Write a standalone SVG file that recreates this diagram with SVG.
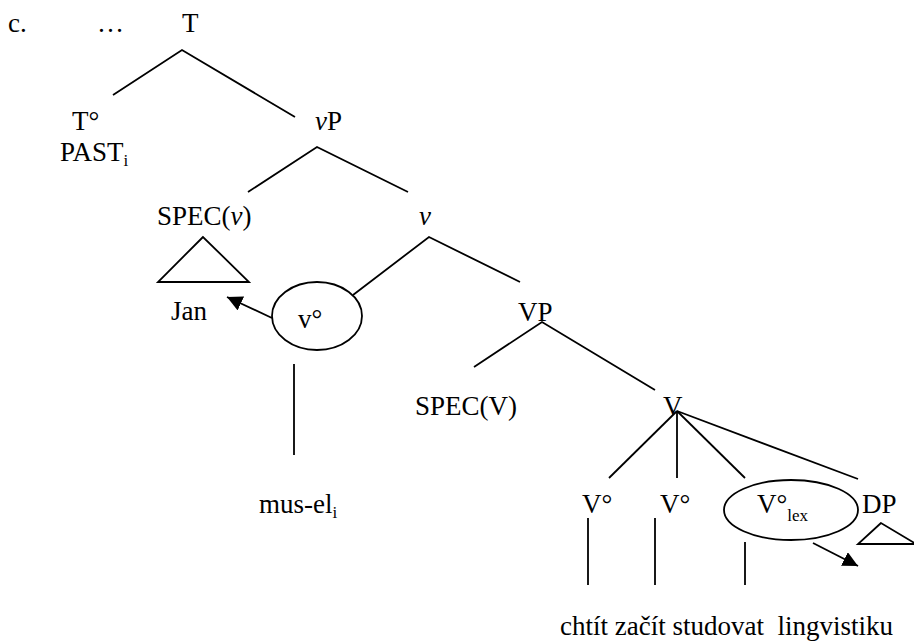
<svg xmlns="http://www.w3.org/2000/svg" width="914" height="643" viewBox="0 0 914 643">
<style>
text{font-family:"Liberation Serif","Times New Roman",serif;font-size:27px;fill:#000}
.sub{font-size:17px}
.it{font-style:italic}
line,polyline,polygon.tri,ellipse{stroke:#000;stroke-width:1.8;fill:none}
</style>
<defs>
<marker id="ah" viewBox="0 0 10 10" refX="10" refY="5" markerWidth="8.5" markerHeight="8.5" orient="auto" markerUnits="strokeWidth">
<path d="M0,0 L10,5 L0,10 z" fill="#000"/>
</marker>
</defs>
<rect width="914" height="643" fill="#fff"/>
<g id="label-c"><text x="8" y="32">c.</text></g>
<g id="node-dots"><text x="97" y="32">…</text></g>
<g id="node-T"><text x="182" y="32">T</text></g>
<g id="node-T0"><text x="72" y="130">T°</text><text x="60" y="161">PAST<tspan class="sub" dy="5">i</tspan></text></g>
<g id="node-vP"><text x="315" y="130"><tspan class="it">v</tspan>P</text></g>
<g id="node-SPECv"><text x="157" y="225">SPEC(<tspan class="it">v</tspan>)</text>
<polygon class="tri" points="203,237 158,282 249,282"/>
<text x="171" y="320">Jan</text></g>
<g id="node-v"><text class="it" x="419" y="225">v</text></g>
<g id="node-v0"><ellipse cx="317" cy="316" rx="45" ry="34"/><text x="298" y="328">v°</text></g>
<g id="node-musel"><text x="259" y="513">mus-el<tspan class="sub" dy="5">i</tspan></text></g>
<g id="node-VP"><text x="518" y="321">VP</text></g>
<g id="node-SPECV"><text x="415" y="415">SPEC(V)</text></g>
<g id="node-Vbar"><text x="663" y="415">V</text></g>
<g id="node-V01"><text x="582" y="513">V°</text></g>
<g id="node-V02"><text x="660" y="513">V°</text></g>
<g id="node-Vlex"><ellipse cx="791" cy="510" rx="67" ry="30"/><text x="757" y="513">V°<tspan class="sub" dy="8">lex</tspan></text></g>
<g id="node-DP"><text x="862" y="513">DP</text><polygon class="tri" points="881,523 858,544 916,544"/></g>
<g id="node-words"><text x="560" y="635" xml:space="preserve">chtít začít studovat  lingvistiku</text></g>
<g id="connectors">
<polyline points="113,95 182,50 295,117"/>
<polyline points="248,192 317,147 408,192"/>
<polyline points="353,295 429,237 520,282"/>
<polyline points="474,367 542,322 655,390"/>
<line x1="677" y1="411" x2="609" y2="478"/>
<line x1="677" y1="411" x2="677" y2="478"/>
<line x1="677" y1="411" x2="745" y2="478"/>
<line x1="677" y1="411" x2="858" y2="479"/>
<line x1="294" y1="364" x2="294" y2="455"/>
<line x1="588" y1="518" x2="588" y2="585"/>
<line x1="655" y1="518" x2="655" y2="585"/>
<line x1="745" y1="542" x2="745" y2="585"/>
<line x1="272" y1="318" x2="227" y2="297" marker-end="url(#ah)"/>
<line x1="813" y1="543" x2="858" y2="566" marker-end="url(#ah)"/>
</g>
</svg>
